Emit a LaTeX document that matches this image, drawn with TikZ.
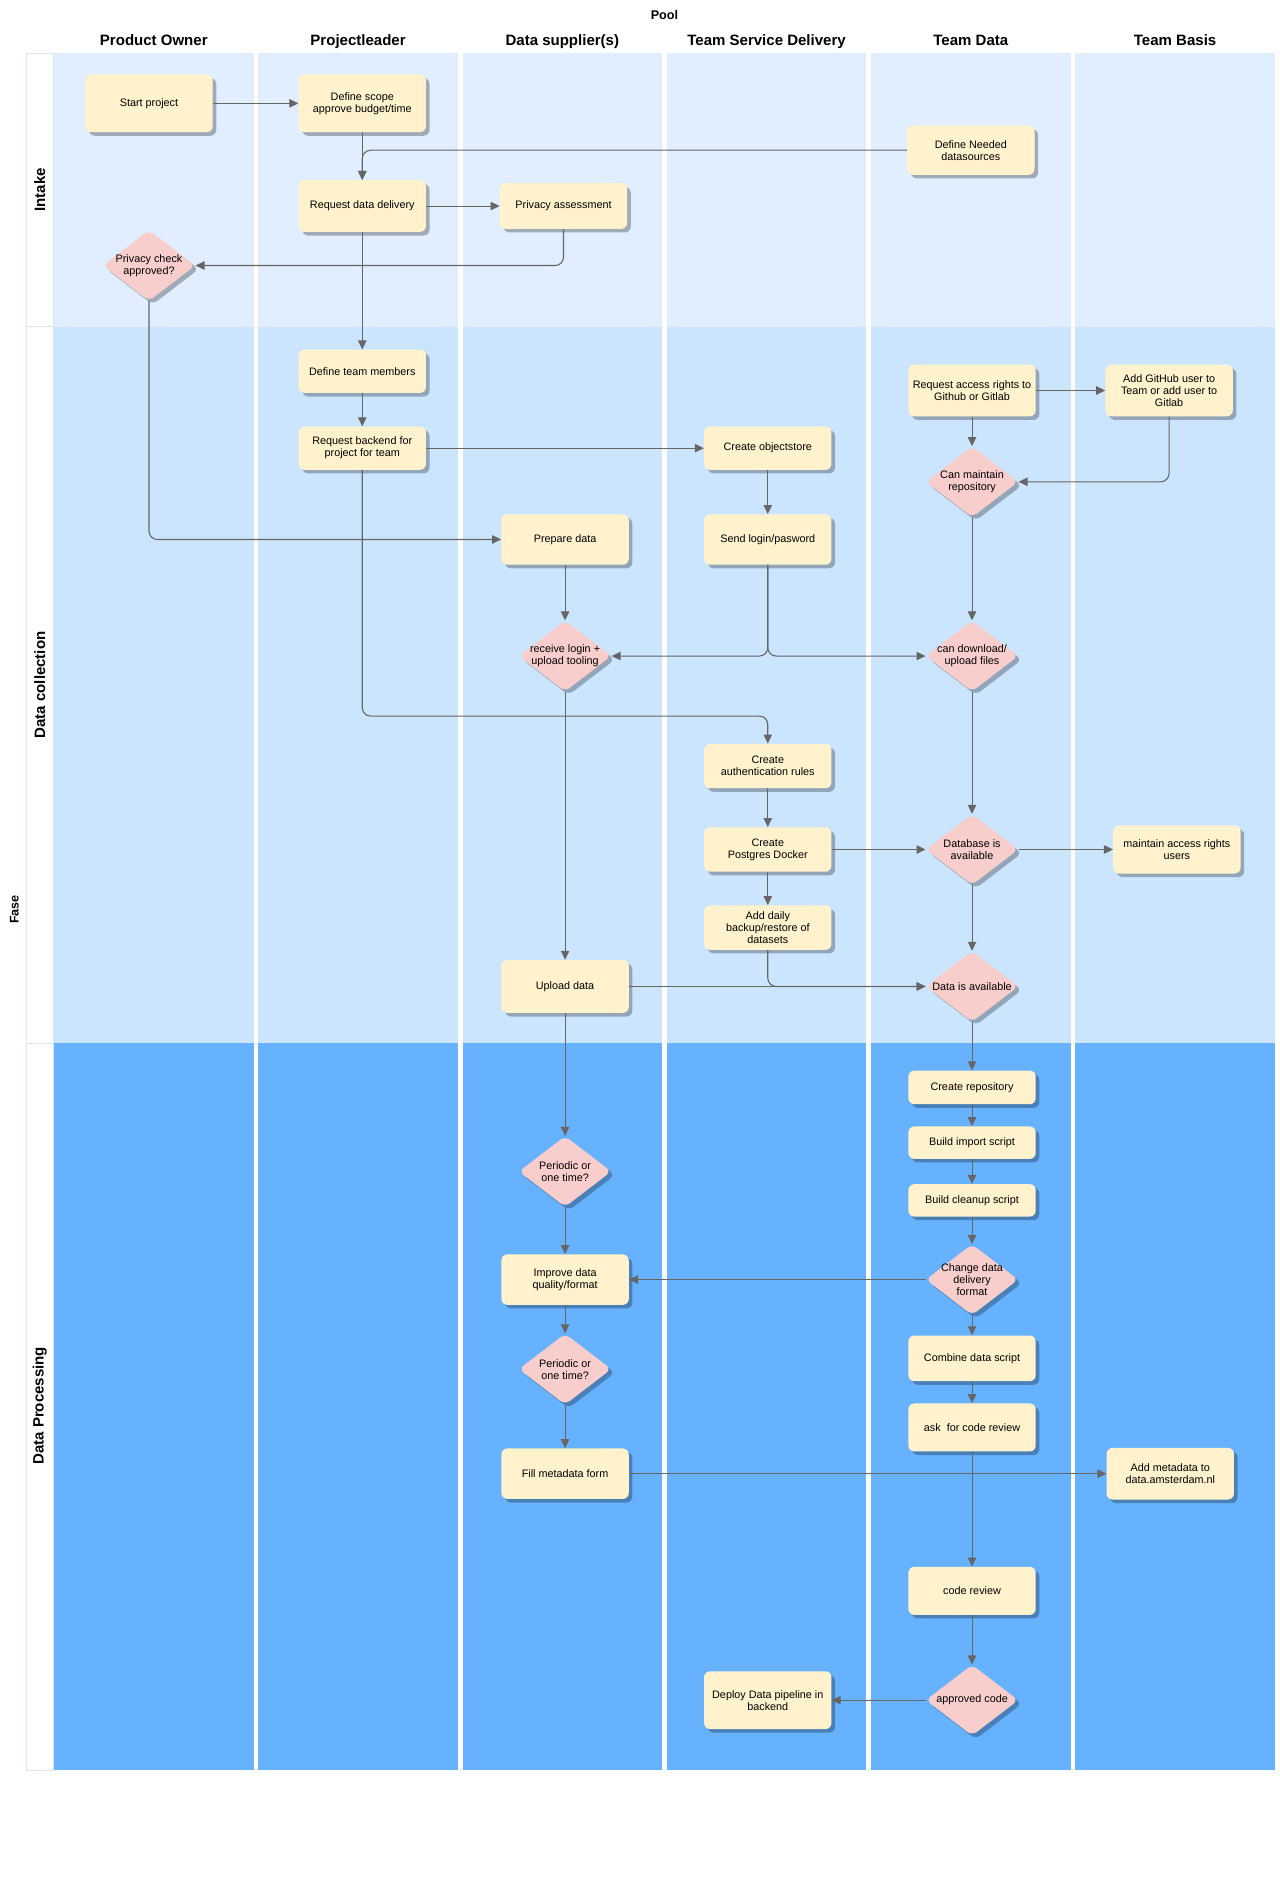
\documentclass[tikz,border=0pt]{standalone}
\usepackage{fontspec}
\setmainfont{Liberation Sans}
\usetikzlibrary{shapes.geometric,arrows.meta,shadows}

\definecolor{bandA}{HTML}{E0EEFF}
\definecolor{bandB}{HTML}{CCE5FF}
\definecolor{bandC}{HTML}{66B2FF}
\definecolor{taskfill}{HTML}{FFF2CC}
\definecolor{gatefill}{HTML}{F8CECC}
\definecolor{linegray}{HTML}{666666}
\definecolor{cellline}{HTML}{DCE7F5}

\newcommand\tasktextfont{\fontsize{9}{10}\selectfont}
\newcommand\headtextfont{\fontsize{12.5}{14}\selectfont\bfseries}

\tikzset{
  task/.style={rectangle, rounded corners=5pt, fill=taskfill,
    minimum width=106pt, minimum height=#1, inner sep=1pt,
    align=center, font=\tasktextfont,
    drop shadow={shadow xshift=3pt, shadow yshift=-3pt, fill=black, opacity=0.28}},
  task/.default=40pt,
  gate/.style={diamond, rounded corners=5pt, fill=gatefill,
    minimum width=77pt, minimum height=59pt, inner sep=0pt,
    drop shadow={shadow xshift=3pt, shadow yshift=-3pt, fill=black, opacity=0.28},
    label={[font=\tasktextfont, align=center, inner sep=0pt]center:#1}},
  conn/.style={draw=linegray, line width=0.9pt, rounded corners=7pt,
    -{Triangle[length=7.5pt,width=7pt]}},
  lanehead/.style={font=\headtextfont, anchor=base},
  phasehead/.style={font=\headtextfont, rotate=90, anchor=center},
  phasecell/.style={draw=cellline, line width=0.6pt, fill=white},
}

\begin{document}
\begin{tikzpicture}[x=1pt,y=-1pt]
\useasboundingbox (0,0) rectangle (1065,1568);
\fill[white] (0,0) rectangle (1065,1568);

% lane columns, one band per phase
\foreach \xa in {45,215,385,555,725,895} {
  \fill[bandA] (\xa,44) rectangle ++(166,228);
  \fill[bandB] (\xa,272) rectangle ++(166,596);
  \fill[bandC] (\xa,868) rectangle ++(166,605);
}

% phase label column
\draw[phasecell] (22,44) rectangle (44,272);
\draw[phasecell] (22,272) rectangle (44,868);
\draw[phasecell] (22,868) rectangle (44,1473);

% titles
\node[font=\fontsize{10.5}{12}\selectfont\bfseries, anchor=base] (pool) at (553,16) {Pool};
\node[lanehead] (hpo) at (128,38) {Product Owner};
\node[lanehead] (hpl) at (298,38) {Projectleader};
\node[lanehead] (hds) at (468,38) {Data supplier(s)};
\node[lanehead] (hsd) at (638,38) {Team Service Delivery};
\node[lanehead] (htd) at (808,38) {Team Data};
\node[lanehead] (htb) at (978,38) {Team Basis};

\node[font=\fontsize{10.5}{12}\selectfont\bfseries, rotate=90] (fase) at (12,757) {Fase};
\node[phasehead] (pintake) at (33,158) {Intake};
\node[phasehead] (pcollect) at (33,570) {Data collection};
\node[phasehead] (pprocess) at (33,1170) {Data Processing};

% ---- Intake
\node[task=48pt] (start) at (124,86) {Start project};
\node[task=48pt] (scope) at (301.5,86) {Define scope\\approve budget/time};
\node[task=41pt] (needed) at (808,125) {Define Needed\\datasources};
\node[task=43pt] (reqdel) at (301.5,171.5) {Request data delivery};
\node[task=38pt] (privacy) at (469,171.5) {Privacy assessment};
\node[gate={Privacy check\\approved?}] (pcheck) at (124,221) {};

% ---- Data collection
\node[task=36pt] (team) at (301.5,309) {Define team members};
\node[task=36pt] (backend) at (301.5,373) {Request backend for\\project for team};
\node[task=36pt] (objstore) at (639,373) {Create objectstore};
\node[task=42pt] (prepare) at (470.3,449) {Prepare data};
\node[task=42pt] (sendlogin) at (639,449) {Send login/pasword};
\node[gate={receive login +\\upload tooling}] (recv) at (470.3,546) {};
\node[task=43pt] (reqacc) at (809,325) {Request access rights to\\Github or Gitlab};
\node[task=43pt] (addgh) at (973,325) {Add GitHub user to\\Team or add user to\\Gitlab};
\node[gate={Can maintain\\repository}] (canmaint) at (809,401) {};
\node[gate={can download/\\upload files}] (candl) at (809,546) {};
\node[task=37pt] (auth) at (639,637.5) {Create\\authentication rules};
\node[task=37pt] (postgres) at (639,707) {Create\\Postgres Docker};
\node[task=37pt] (backup) at (639,772) {Add daily\\backup/restore of\\datasets};
\node[gate={Database is\\available}] (dbavail) at (809,707) {};
\node[task=40pt] (maintacc) at (979.5,707) {maintain access rights\\users};
\node[gate={Data is available}] (dataavail) at (809,821) {};
\node[task=44pt] (upload) at (470.3,821) {Upload data};

% ---- Data Processing
\node[task=28pt] (createrepo) at (809,905) {Create repository};
\node[task=27pt] (buildimp) at (809,951) {Build import script};
\node[task=27pt] (buildclean) at (809,999) {Build cleanup script};
\node[gate={Change data\\delivery\\format}] (change) at (809,1065) {};
\node[task=38pt] (combine) at (809,1130.5) {Combine data script};
\node[task=40pt] (askrev) at (809,1188) {ask~ for code review};
\node[gate={Periodic or\\one time?}] (per1) at (470.3,975) {};
\node[task=42pt] (improve) at (470.3,1065) {Improve data\\quality/format};
\node[gate={Periodic or\\one time?}] (per2) at (470.3,1139.5) {};
\node[task=42pt] (fill) at (470.3,1226.5) {Fill metadata form};
\node[task=43pt] (addmeta) at (974,1226.5) {Add metadata to\\data.amsterdam.nl};
\node[task=40pt] (codereview) at (809,1324) {code review};
\node[gate={approved code}] (approved) at (809,1415) {};
\node[task=48pt] (deploy) at (639,1415) {Deploy Data pipeline in\\backend};

% ---- connectors
\coordinate (split) at (470,596);

\draw[conn] (start.east) -- (scope.west);
\draw[conn] (scope.south) -- (reqdel.north);
\draw[conn] (needed.west) -| (reqdel.north);
\draw[conn] (reqdel.east) -- (privacy.west);
\draw[conn] (privacy.south) |- (pcheck.east);
\draw[conn] (reqdel.south) -- (team.north);
\draw[conn] (team.south) -- (backend.north);
\draw[conn] (backend.east) -- (objstore.west);
\draw[conn] (pcheck.south) |- (prepare.west);
\draw[conn] (backend.south) |- (split) -| (auth.north);
\draw[conn] (prepare.south) -- (recv.north);
\draw[conn] (objstore.south) -- (sendlogin.north);
\draw[conn] (sendlogin.south) |- (recv.east);
\draw[conn] (sendlogin.south) |- (candl.west);
\draw[conn] (reqacc.east) -- (addgh.west);
\draw[conn] (reqacc.south) -- (canmaint.north);
\draw[conn] (addgh.south) |- (canmaint.east);
\draw[conn] (canmaint.south) -- (candl.north);
\draw[conn] (recv.south) -- (upload.north);
\draw[conn] (candl.south) -- (dbavail.north);
\draw[conn] (auth.south) -- (postgres.north);
\draw[conn] (postgres.east) -- (dbavail.west);
\draw[conn] (dbavail.east) -- (maintacc.west);
\draw[conn] (postgres.south) -- (backup.north);
\draw[conn] (dbavail.south) -- (dataavail.north);
\draw[conn] (upload.east) -- (dataavail.west);
\draw[conn] (backup.south) |- (dataavail.west);
\draw[conn] (dataavail.south) -- (createrepo.north);
\draw[conn] (upload.south) -- (per1.north);
\draw[conn] (createrepo.south) -- (buildimp.north);
\draw[conn] (buildimp.south) -- (buildclean.north);
\draw[conn] (buildclean.south) -- (change.north);
\draw[conn] (change.south) -- (combine.north);
\draw[conn] (combine.south) -- (askrev.north);
\draw[conn] (per1.south) -- (improve.north);
\draw[conn] (change.west) -- (improve.east);
\draw[conn] (improve.south) -- (per2.north);
\draw[conn] (per2.south) -- (fill.north);
\draw[conn] (fill.east) -- (addmeta.west);
\draw[conn] (askrev.south) -- (codereview.north);
\draw[conn] (codereview.south) -- (approved.north);
\draw[conn] (approved.west) -- (deploy.east);
\end{tikzpicture}
\end{document}
